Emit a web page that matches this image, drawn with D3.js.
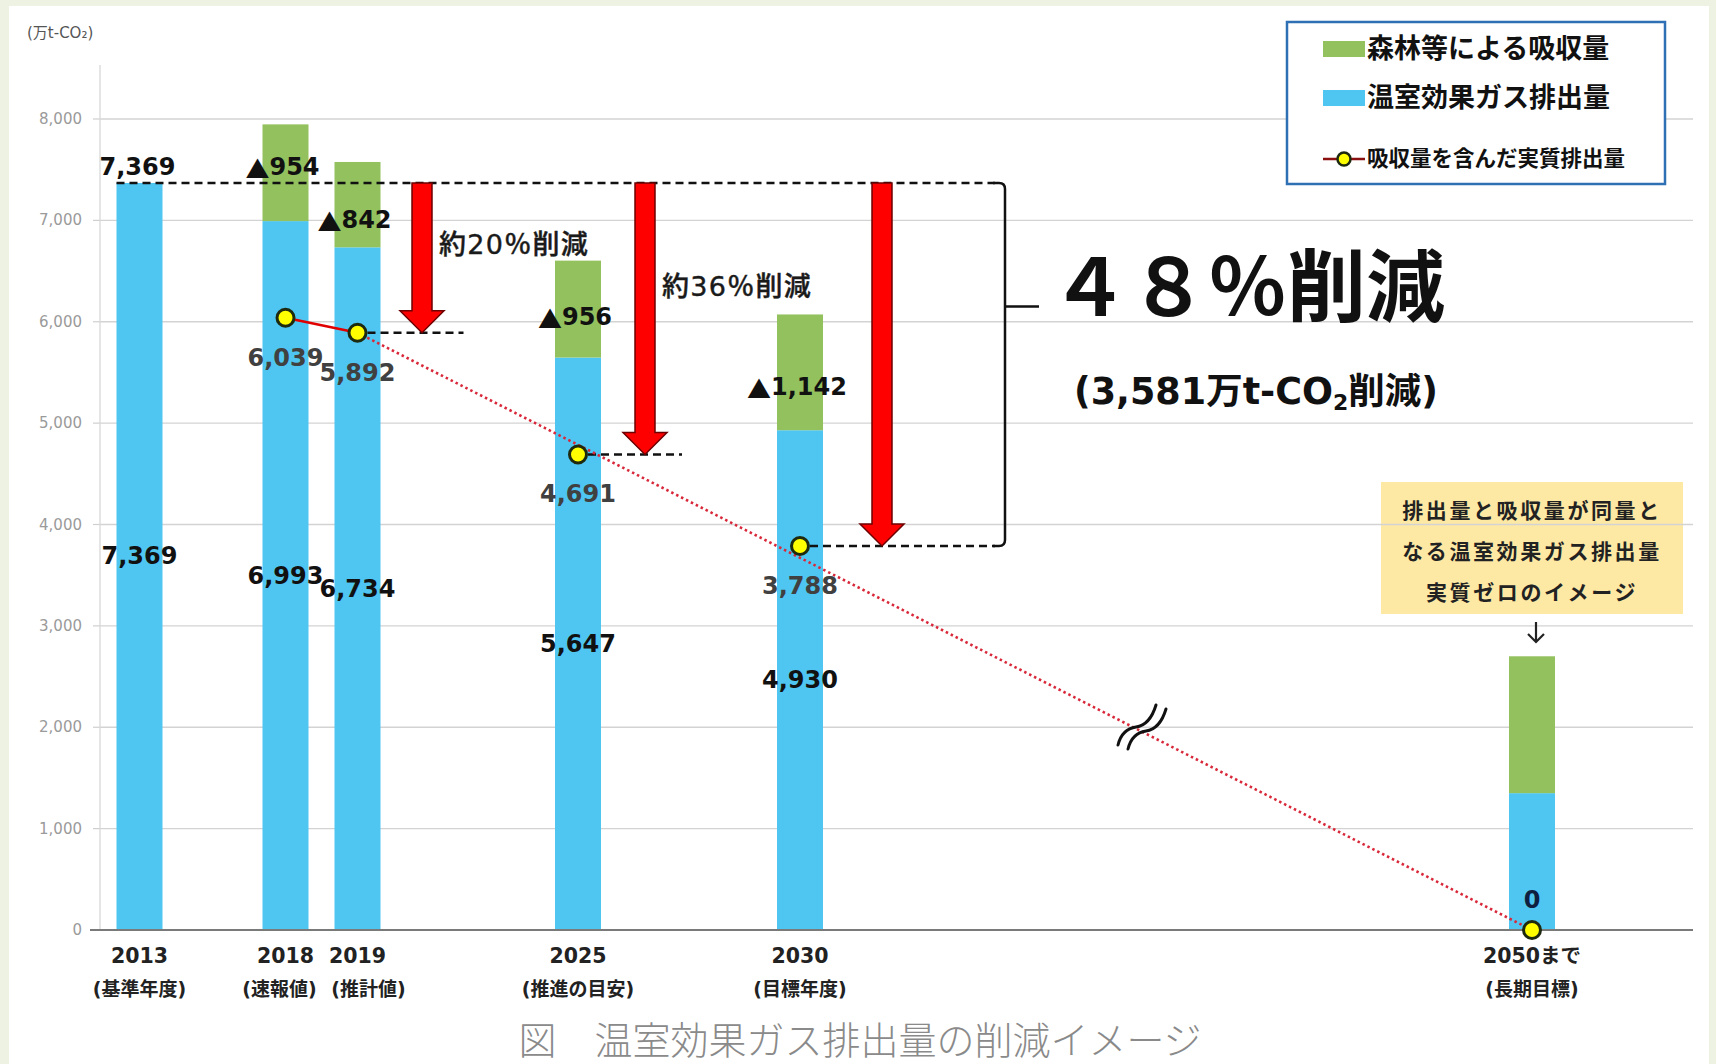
<!DOCTYPE html>
<html lang="ja"><head><meta charset="utf-8">
<script src="https://cdn.jsdelivr.net/npm/d3@7/dist/d3.min.js"></script>
<style>
html,body{margin:0;padding:0;background:#eef2e3;}
svg{display:block;}
text{font-family:"DejaVu Sans","Noto Sans CJK JP",sans-serif;}
</style></head><body>
<svg id="chart" width="1716" height="1064"></svg>
<script>
// ---------------- data ----------------
const years = [2013, 2018, 2019, 2025, 2030, 2050];
const yearLabels = ["2013", "2018", "2019", "2025", "2030", "2050まで"];
const yearNotes = ["(基準年度)", "(速報値)", "(推計値)", "(推進の目安)", "(目標年度)", "(長期目標)"];
const emissions = [7369, 6993, 6734, 5647, 4930, 1350];
const absorption = [0, 954, 842, 956, 1142, 1350];
const netEmissions = [null, 6039, 5892, 4691, 3788, 0];
const yTicks = [0, 1000, 2000, 3000, 4000, 5000, 6000, 7000, 8000];
const reductionYears = [2019, 2025, 2030];
const reductionTexts = ["約20％削減", "約36％削減", null];
const totalReduction = "４８％削減";
const totalReductionSub = ["(3,581万t-CO", "2", "削減)"];
const legendItems = ["森林等による吸収量", "温室効果ガス排出量", "吸収量を含んだ実質排出量"];
const noteLines = ["排出量と吸収量が同量と", "なる温室効果ガス排出量", "実質ゼロのイメージ"];
const caption = "図　温室効果ガス排出量の削減イメージ";
const unitLabel = "(万t-CO₂)";

// ---------------- layout ----------------
const svg = d3.select("#chart");
const BLUE = "#4fc6f2", GREEN = "#93c15e", RED = "#ff0000";
const fmt = d3.format(",");
const plotLeft = 100, plotRight = 1693, plotTop = 65;
const barW = 46;

const y = d3.scaleLinear().domain([0, 8000]).range([930, 119]);
// polylinear category scale (axis has a break between 2030 and 2050)
const x = d3.scaleLinear().domain(years).range([139.5, 285.5, 357.5, 578, 800, 1532]);

svg.append("rect").attr("x", 9).attr("y", 6).attr("width", 1700).attr("height", 1058).attr("fill", "#fff");

// yellow note box (under the gridlines)
const xn = x(2050);
svg.append("rect").attr("x", xn - 151).attr("y", 482).attr("width", 302).attr("height", 132).attr("fill", "#fde8a4");

// gridlines + y axis
const g = svg.append("g");
g.selectAll("line.grid").data(yTicks.filter(d => d > 0)).join("line")
  .attr("x1", plotLeft).attr("x2", plotRight).attr("y1", d => y(d)).attr("y2", d => y(d))
  .attr("stroke", "#d3d3d3").attr("stroke-width", 1.3);
g.selectAll("line.tick").data(yTicks).join("line")
  .attr("x1", plotLeft - 7).attr("x2", plotLeft).attr("y1", d => y(d)).attr("y2", d => y(d))
  .attr("stroke", "#cfcfcf").attr("stroke-width", 1.2);
g.append("line").attr("x1", plotLeft).attr("x2", plotLeft).attr("y1", y(0)).attr("y2", plotTop)
  .attr("stroke", "#d8d8d8").attr("stroke-width", 1.3);
g.selectAll("text.yt").data(yTicks).join("text")
  .attr("x", 82).attr("y", d => y(d) + 5).attr("text-anchor", "end")
  .attr("font-size", 15).attr("fill", "#9a9a9a").text(d => fmt(d));
svg.append("text").attr("x", 27).attr("y", 38).attr("font-size", 15).attr("fill", "#555").text(unitLabel);

// bars
const bars = svg.append("g");
years.forEach((yr, i) => {
  bars.append("rect").attr("x", x(yr) - barW / 2).attr("width", barW)
    .attr("y", y(emissions[i])).attr("height", y(0) - y(emissions[i])).attr("fill", BLUE);
  if (absorption[i] > 0)
    bars.append("rect").attr("x", x(yr) - barW / 2).attr("width", barW)
      .attr("y", y(emissions[i] + absorption[i])).attr("height", y(emissions[i]) - y(emissions[i] + absorption[i]))
      .attr("fill", GREEN);
});

// x axis baseline
svg.append("line").attr("x1", 90).attr("x2", plotRight).attr("y1", y(0)).attr("y2", y(0))
  .attr("stroke", "#7a7a7a").attr("stroke-width", 2);

// x labels
const noteDx = {2018: -6, 2019: 11};
years.forEach((yr, i) => {
  svg.append("text").attr("x", x(yr)).attr("y", 963).attr("text-anchor", "middle")
    .attr("font-size", 20.5).attr("font-weight", "bold").attr("fill", "#222").text(yearLabels[i]);
  svg.append("text").attr("x", x(yr) + (noteDx[yr] || 0)).attr("y", 996).attr("text-anchor", "middle")
    .attr("font-size", 19).attr("font-weight", "bold").attr("fill", "#222").text(yearNotes[i]);
});

// base-year dashed reference line, bracket
const baseY = y(emissions[0]);
const bracketX = 1005;
const i2030 = years.indexOf(2030);
const bottomY = y(netEmissions[i2030]);
const dash = "8 5";
svg.append("line").attr("x1", x(2013) - barW / 2).attr("x2", bracketX - 10).attr("y1", baseY).attr("y2", baseY)
  .attr("stroke", "#111").attr("stroke-width", 2.5).attr("stroke-dasharray", dash);
svg.append("line").attr("x1", x(2030) + 10).attr("x2", bracketX - 10).attr("y1", bottomY).attr("y2", bottomY)
  .attr("stroke", "#111").attr("stroke-width", 2.5).attr("stroke-dasharray", dash);
const tickY = baseY + 0.34 * (bottomY - baseY);
svg.append("path")
  .attr("d", `M${bracketX - 12},${baseY} H${bracketX - 6} Q${bracketX},${baseY} ${bracketX},${baseY + 6} V${bottomY - 6} Q${bracketX},${bottomY} ${bracketX - 6},${bottomY} H${bracketX - 12} M${bracketX},${tickY} H${bracketX + 34}`)
  .attr("fill", "none").attr("stroke", "#111").attr("stroke-width", 2.5);

// short dashed lines from 2019 and 2025 net points
const dashLen = {2019: 106, 2025: 104};
[2019, 2025].forEach(yr => {
  const v = netEmissions[years.indexOf(yr)];
  svg.append("line").attr("x1", x(yr) + 10).attr("x2", x(yr) + dashLen[yr]).attr("y1", y(v)).attr("y2", y(v))
    .attr("stroke", "#111").attr("stroke-width", 2.5).attr("stroke-dasharray", dash);
});

// red reduction arrows
const arrowDx = {2019: 64.5, 2025: 67, 2030: 82};
reductionYears.forEach((yr, k) => {
  const cx = x(yr) + arrowDx[yr];
  const y0 = baseY, y1 = y(netEmissions[years.indexOf(yr)]);
  const hw = 10, hh = 22, hl = 22;
  svg.append("path")
    .attr("d", `M${cx - hw},${y0} H${cx + hw} V${y1 - hl} H${cx + hh} L${cx},${y1} L${cx - hh},${y1 - hl} H${cx - hw} Z`)
    .attr("fill", RED).attr("stroke", "#6e0000").attr("stroke-width", 1.5);
  if (reductionTexts[k])
    svg.append("text").attr("x", cx + 17).attr("y", k === 0 ? 254 : 296)
      .attr("font-size", 27).attr("font-weight", 500).attr("letter-spacing", 1.3).attr("fill", "#1a1a1a")
      .attr("stroke", "#1a1a1a").attr("stroke-width", 0.4)
      .text(reductionTexts[k]);
});

// net emission line
const netPts = years.map((yr, i) => ({yr, v: netEmissions[i]})).filter(d => d.v !== null);
const line = d3.line().x(d => x(d.yr)).y(d => y(d.v));
svg.append("path").attr("d", line(netPts.filter(d => d.yr <= 2019)))
  .attr("fill", "none").attr("stroke", "#e00000").attr("stroke-width", 2.5);
svg.append("path").attr("d", line(netPts.filter(d => d.yr === 2019 || d.yr === 2050)))
  .attr("fill", "none").attr("stroke", "#d8283a").attr("stroke-width", 2.6).attr("stroke-dasharray", "2.5 3");

// axis-break mark on the trend line
const bx = 1142, by = 727;
svg.append("path")
  .attr("d", `M${bx - 24},${by + 18} Q${bx - 20},${by + 2} ${bx - 6},${by} T${bx + 14},${by - 22} M${bx - 14},${by + 22} Q${bx - 10},${by + 6} ${bx + 4},${by + 4} T${bx + 24},${by - 18}`)
  .attr("fill", "none").attr("stroke", "#111").attr("stroke-width", 3).attr("stroke-linecap", "round");

// circles
svg.selectAll("circle.net").data(netPts).join("circle")
  .attr("cx", d => x(d.yr)).attr("cy", d => y(d.v)).attr("r", 8.5)
  .attr("fill", "#ffff00").attr("stroke", "#1e2a10").attr("stroke-width", 3);

// value labels
const absLabelDy = {2018: -6, 2019: 15, 2025: 8, 2030: 15};
const lbl = (sel) => sel.attr("font-size", 24).attr("font-weight", "bold").attr("text-anchor", "middle").attr("dominant-baseline", "central");
years.forEach((yr, i) => {
  if (yr === 2050) return;
  lbl(svg.append("text")).attr("x", x(yr)).attr("y", (y(0) + y(emissions[i])) / 2).attr("fill", "#111").text(fmt(emissions[i]));
  if (absorption[i] > 0) {
    const t = lbl(svg.append("text")).attr("x", x(yr) - 3)
      .attr("y", (y(emissions[i]) + y(emissions[i] + absorption[i])) / 2 + absLabelDy[yr]).attr("fill", "#111");
    t.append("tspan").attr("font-family", "Noto Sans CJK JP").text("▲");
    t.append("tspan").text(fmt(absorption[i]));
  }
  if (netEmissions[i] !== null)
    lbl(svg.append("text")).attr("x", x(yr)).attr("y", y(netEmissions[i]) + 40).attr("fill", "#404040").text(fmt(netEmissions[i]));
});
lbl(svg.append("text")).attr("x", x(2013) - 2).attr("y", baseY - 16).attr("fill", "#111").text(fmt(emissions[0]));
lbl(svg.append("text")).attr("x", x(2050)).attr("y", y(0) - 30).attr("fill", "#0f1f40").text(fmt(netEmissions[5]));

// 48% annotation
svg.append("text").attr("x", 1050).attr("y", 316).attr("font-family", "Noto Sans CJK JP")
  .attr("font-size", 79).attr("font-weight", "bold").attr("fill", "#111").text(totalReduction);
const sub = svg.append("text").attr("x", 1074).attr("y", 404).attr("font-size", 36.5).attr("font-weight", "bold").attr("fill", "#111");
sub.append("tspan").text(totalReductionSub[0]);
sub.append("tspan").attr("font-size", 22).attr("dy", 6).text(totalReductionSub[1]);
sub.append("tspan").attr("dy", -6).text(totalReductionSub[2]);

// note box text and arrow
noteLines.forEach((s, k) => {
  svg.append("text").attr("x", xn).attr("y", 518 + k * 41).attr("text-anchor", "middle")
    .attr("font-family", "Noto Sans CJK JP").attr("font-size", 21).attr("font-weight", "bold")
    .attr("letter-spacing", 2.6).attr("fill", "#222").text(s);
});
svg.append("path").attr("d", `M${xn + 4},622 V642 M${xn - 4},634 L${xn + 4},642 L${xn + 12},634`)
  .attr("fill", "none").attr("stroke", "#222").attr("stroke-width", 2.2);

// legend
const lg = svg.append("g");
lg.append("rect").attr("x", 1287).attr("y", 22).attr("width", 378).attr("height", 162)
  .attr("fill", "#fff").attr("stroke", "#2f6fb3").attr("stroke-width", 2.5);
[GREEN, BLUE].forEach((c, k) => {
  const cy = k === 0 ? 49 : 98;
  lg.append("rect").attr("x", 1323).attr("y", cy - 8).attr("width", 42).attr("height", 16).attr("fill", c);
  lg.append("text").attr("x", 1367).attr("y", cy + 9).attr("font-family", "Noto Sans CJK JP")
    .attr("font-size", 27).attr("font-weight", "bold").attr("fill", "#111").text(legendItems[k]);
});
lg.append("line").attr("x1", 1323).attr("x2", 1365).attr("y1", 159).attr("y2", 159).attr("stroke", "#8a1010").attr("stroke-width", 2.5);
lg.append("circle").attr("cx", 1344).attr("cy", 159).attr("r", 6.5).attr("fill", "#ffff00").attr("stroke", "#1e2a10").attr("stroke-width", 2.5);
lg.append("text").attr("x", 1367).attr("y", 166).attr("font-family", "Noto Sans CJK JP")
  .attr("font-size", 21.5).attr("font-weight", "bold").attr("fill", "#111").text(legendItems[2]);

// caption
svg.append("text").attr("x", 860).attr("y", 1054).attr("text-anchor", "middle").attr("font-family", "Noto Sans CJK JP")
  .attr("font-size", 38).attr("font-weight", 300).attr("fill", "#8a8a8a").text(caption);
</script></body></html>
